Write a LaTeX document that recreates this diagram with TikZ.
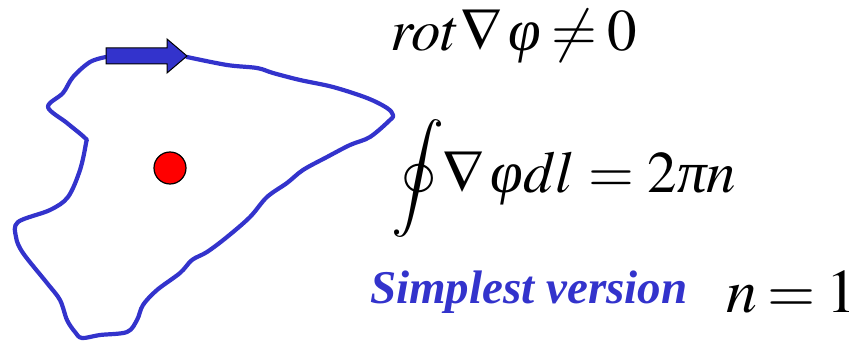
\documentclass[tikz,border=0pt]{standalone}
\usepackage{mathptmx}
\usepackage{fontspec}
\setmainfont{Liberation Serif}
\definecolor{loopblue}{HTML}{3333CC}
\newcommand{\phiit}{\mbox{\itshape φ}}
\newcommand{\piit}{\mbox{\itshape π}}
\begin{document}
\begin{tikzpicture}[x=1pt,y=-1pt,
  eq/.style={inner sep=0pt,anchor=base west,text height=42pt,text depth=12pt,font=\fontsize{59}{60}\selectfont},
  label/.style={inner sep=0pt,anchor=base west,text=loopblue,font=\fontsize{47}{49}\selectfont\bfseries\itshape},
  loop/.style={draw=loopblue,line width=4.2pt,line join=round,line cap=round}]
\useasboundingbox (0,0) rectangle (849,342);
\thickmuskip=3mu
% closed loop
\draw[loop] plot[smooth,tension=0.55] coordinates {
 (187,57) (227,65) (257,68) (273,73) (300,80) (333,87) (367,98) (387,108) (393,115)
 (390,120) (370,137) (350,145) (327,157) (303,170) (287,183) (267,197) (250,217)
 (227,237) (207,252) (192,260) (180,273) (157,290) (143,305) (137,320) (127,332)
 (100,335) (82,338) (75,332) (67,320) (60,300) (47,283) (23,253) (16,237) (18,222)
 (50,210) (68,197) (80,170) (86,143) (85,138) (67,123) (48,107) (63,93) (73,77)
 (90,62) (106,57)};
% direction arrow
\draw[fill=loopblue,draw=black,line width=1pt,line join=miter]
  (106,48) -- (167,48) -- (167,39) -- (187,56) -- (167,73) -- (167,64) -- (106,64) -- cycle;
% charge
\node[circle,fill=red,draw=black,line width=1.2pt,minimum size=32pt,inner sep=0pt] (dot) at (170,168) {};
% equations
\node[eq] (rot) at (390,51) {$rot\nabla\,\phiit\neq0$};
\node[inner sep=0pt] (oint) at (418,178) {\fontsize{59}{60}\selectfont$\displaystyle\oint$};
\node[eq] (circ) at (442,193) {$\nabla\,\phiit dl\mskip4mu{=}\mskip4mu2\piit n$};
\node[label] (simple) at (370,303) {Simplest version};
\node[eq,text depth=2pt,font=\fontsize{62}{64}\selectfont] (none) at (726,312) {$n\mskip3mu{=}\mskip3mu1$};
\end{tikzpicture}
\end{document}
